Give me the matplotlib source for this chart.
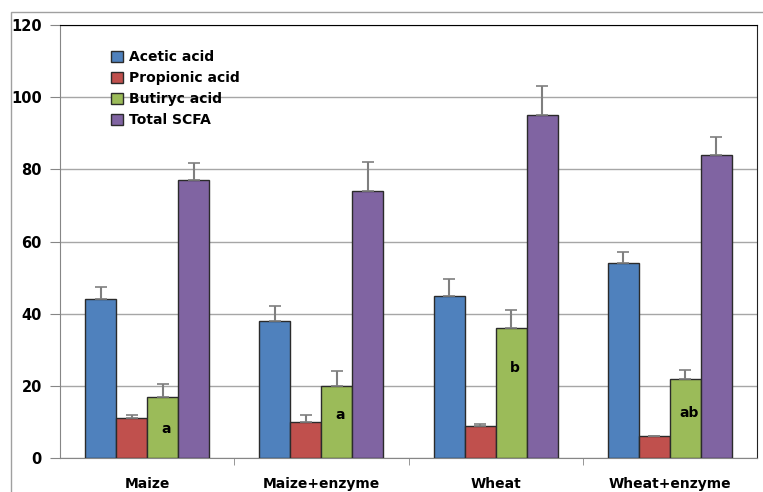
import numpy as np
import matplotlib
matplotlib.use("Agg")
import matplotlib.pyplot as plt
from matplotlib.patches import Rectangle

# ---------------------------------------------------------------------------
# Data
groups = ["Maize", "Maize+enzyme", "Wheat", "Wheat+enzyme"]
series = ["Acetic acid", "Propionic acid", "Butiryc acid", "Total SCFA"]

acetic = [44, 38, 45, 54]
acetic_err = [3.3, 4, 4.5, 3]
propionic = [11, 10, 9, 6]
propionic_err = [1, 1.8, 0.5, 0]
butyric = [17, 20, 36, 22]
butyric_err = [3.5, 4, 5, 2.5]
total = [77, 74, 95, 84]
total_err = [4.7, 8, 8, 5]

butyric_letters = ["a", "a", "b", "ab"]
letter_y = [8, 12, 25, 12.5]

colors = ["#4F81BD", "#C0504D", "#9BBB59", "#8064A2"]

# ---------------------------------------------------------------------------
plt.rcParams["font.family"] = ["DejaVu Sans"]
fig = plt.figure(figsize=(7.63, 4.92), dpi=100)
ax = fig.add_axes([60 / 763, 34 / 492, 697 / 763, 433 / 492])

# outer chart border (Excel chart area)
fig.patches.append(Rectangle((11 / 763, -0.1), 1.2, (492 - 12) / 492 + 0.1,
                             transform=fig.transFigure, fill=False,
                             edgecolor="#a0a0a0", lw=1, zorder=0))

x = np.arange(len(groups))
w = 0.178
values = [acetic, propionic, butyric, total]
errors = [acetic_err, propionic_err, butyric_err, total_err]

for i, (vals, errs) in enumerate(zip(values, errors)):
    pos = x + (i - 1.5) * w
    ax.bar(pos, vals, w, color=colors[i], edgecolor="#2b2b2b", lw=1,
           label=series[i], zorder=3)
    eb = ax.errorbar(pos, vals, yerr=[np.zeros(len(errs)), errs], fmt="none",
                     ecolor="#7f7f7f", elinewidth=1.5, capsize=4, capthick=1.2,
                     zorder=4)
    for cap in eb[1]:
        cap.set_color("#222222")

# letters on butyric bars
for j, (lab, ly) in enumerate(zip(butyric_letters, letter_y)):
    ax.text(x[j] + 0.5 * w + 0.02, ly, lab, ha="center", va="center",
            fontsize=10, fontweight="bold", zorder=5)

ax.set_xlim(-0.5, len(groups) - 0.5)
ax.set_ylim(0, 120)
ax.set_yticks(range(0, 121, 20))
ax.yaxis.grid(True, color="#a6a6a6", lw=1, zorder=0)
ax.set_axisbelow(True)

ax.set_xticks(x)
ax.set_xticklabels(groups, fontsize=10, fontweight="bold")
ax.set_xticks(np.arange(0.5, len(groups) - 0.5, 1), minor=True)
ax.tick_params(axis="x", which="major", length=0, pad=14)
ax.tick_params(axis="x", which="minor", length=5, color="#868686")
ax.tick_params(axis="y", length=7, color="#868686", labelsize=10.5, pad=6)
for t in ax.get_yticklabels():
    t.set_fontweight("bold")

ax.spines["left"].set_color("#868686")
ax.spines["bottom"].set_color("#868686")
ax.spines["top"].set_color("#000000")
ax.spines["right"].set_color("#222222")

leg = ax.legend(loc="upper left", bbox_to_anchor=(0.055, 0.97), frameon=False,
                prop={"weight": "bold", "size": 10}, handlelength=0.9,
                handleheight=0.9, handletextpad=0.4, labelspacing=0.5)

fig.savefig("out.png", dpi=100)
